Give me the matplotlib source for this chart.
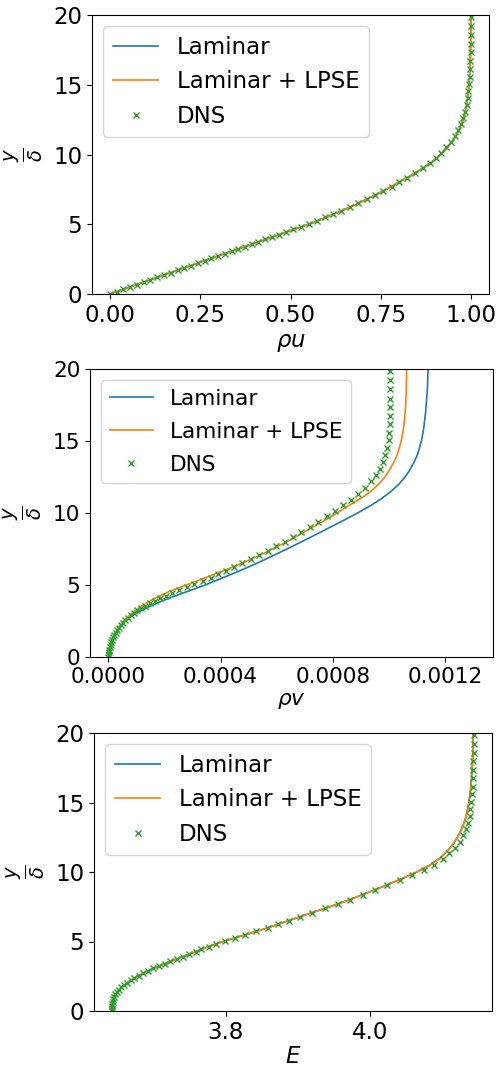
import matplotlib
matplotlib.use("Agg")
import matplotlib.pyplot as plt

# ---------------- data ----------------
# wall-normal coordinate for the model (Laminar / LPSE) curves
y_line = [0, 0.5, 1, 1.5, 2, 2.5, 3, 3.5, 4, 4.5, 5, 5.5, 6, 6.5, 7, 7.5, 8, 8.5, 9, 9.5,
          10, 10.5, 11, 11.5, 12, 12.5, 13, 13.5, 14, 14.5, 15, 15.5, 16, 16.5, 17, 17.5,
          18, 18.5, 19, 19.5, 20]

# DNS grid points (wall-normal)
y_dns = [0, 0.17, 0.34, 0.51, 0.68, 0.85, 1.02, 1.19, 1.36, 1.53, 1.70, 1.87, 2.04, 2.21,
         2.38, 2.55, 2.72, 2.89, 3.06, 3.23, 3.40, 3.57, 3.74, 3.91, 4.08, 4.26, 4.44, 4.63,
         4.83, 5.04, 5.26, 5.49, 5.73, 5.98, 6.24, 6.51, 6.79, 7.08, 7.38, 7.69, 8.01, 8.34,
         8.68, 9.03, 9.39, 9.76, 10.14, 10.53, 10.93, 11.34, 11.76, 12.19, 12.63, 13.08,
         13.55, 14.03, 14.53, 15.05, 15.59, 16.15, 16.73, 17.33, 17.95, 18.58, 19.22, 19.87]

# rho*u
rhou_laminar = [0, 0.055, 0.11, 0.165, 0.22, 0.275, 0.33, 0.385, 0.44, 0.495, 0.551, 0.600,
                0.645, 0.688, 0.728, 0.765, 0.800, 0.834, 0.865, 0.893, 0.916, 0.935, 0.950,
                0.962, 0.971, 0.978, 0.9835, 0.9875, 0.9905, 0.9928, 0.9945, 0.996, 0.997,
                0.9978, 0.9984, 0.9989, 0.9992, 0.9995, 0.9997, 0.9999, 1.0]
rhou_lpse = [0, 0.055, 0.11, 0.165, 0.22, 0.275, 0.33, 0.385, 0.44, 0.495, 0.551, 0.600,
             0.645, 0.688, 0.728, 0.765, 0.800, 0.834, 0.865, 0.893, 0.916, 0.935, 0.950,
             0.962, 0.971, 0.978, 0.9835, 0.9875, 0.9905, 0.9928, 0.9945, 0.996, 0.997,
             0.9978, 0.9984, 0.9989, 0.9992, 0.9995, 0.9997, 0.9999, 1.0]
rhou_dns = [0.000, 0.019, 0.037, 0.056, 0.075, 0.094, 0.112, 0.131, 0.150, 0.168, 0.187,
            0.206, 0.224, 0.243, 0.262, 0.281, 0.299, 0.318, 0.337, 0.355, 0.374, 0.393,
            0.411, 0.430, 0.449, 0.469, 0.488, 0.508, 0.529, 0.551, 0.573, 0.596, 0.618,
            0.641, 0.664, 0.688, 0.711, 0.734, 0.757, 0.780, 0.802, 0.824, 0.846, 0.867,
            0.886, 0.903, 0.918, 0.932, 0.944, 0.955, 0.964, 0.972, 0.979, 0.984, 0.988,
            0.991, 0.993, 0.995, 0.9965, 0.9975, 0.9983, 0.9989, 0.9993, 0.9996, 0.9998,
            0.9999]

# rho*v
rhov_laminar = [0, 0.000003, 0.00001, 0.000021, 0.000036, 0.000059, 0.000096, 0.000146,
                0.000205, 0.000275, 0.000345, 0.000408, 0.00047, 0.000528, 0.000583,
                0.000636, 0.000688, 0.000739, 0.000789, 0.000839, 0.000888, 0.000933,
                0.000973, 0.001007, 0.001035, 0.001057, 0.001074, 0.001088, 0.0011,
                0.001108, 0.001115, 0.00112, 0.001124, 0.001127, 0.00113, 0.001132,
                0.001134, 0.001136, 0.001137, 0.001138, 0.001139]
rhov_lpse = [0, 0.000003, 0.00001, 0.000021, 0.000034, 0.000055, 0.000082, 0.000115,
             0.000158, 0.000212, 0.000278, 0.000345, 0.000412, 0.000474, 0.000532,
             0.000585, 0.000635, 0.000682, 0.000727, 0.000772, 0.000815, 0.000855,
             0.000898, 0.000935, 0.000962, 0.000985, 0.001002, 0.001016, 0.001028,
             0.001036, 0.001043, 0.001048, 0.001052, 0.001055, 0.001057, 0.001059,
             0.00106, 0.001061, 0.0010615, 0.001062, 0.001062]
rhov_dns = [0, 0.000001, 0.000002, 0.000003, 0.000005, 0.000008, 0.00001, 0.000014,
            0.000018, 0.000022, 0.000027, 0.000031, 0.000037, 0.000044, 0.000051,
            0.000059, 0.000069, 0.00008, 0.000091, 0.000103, 0.000116, 0.00013, 0.00015,
            0.000167, 0.000184, 0.000205, 0.000227, 0.000252, 0.000279, 0.000306,
            0.000336, 0.000366, 0.000392, 0.000418, 0.000448, 0.000478, 0.000508,
            0.000538, 0.000568, 0.000598, 0.000628, 0.000658, 0.000688, 0.000718,
            0.000748, 0.000778, 0.000808, 0.000837, 0.000865, 0.000891, 0.000915,
            0.000936, 0.000953, 0.000967, 0.000978, 0.000987, 0.000993, 0.000998,
            0.001001, 0.001003, 0.001004, 0.001004, 0.001004, 0.001004, 0.001004,
            0.001004]

# total energy E
E_laminar = [3.642, 3.6424, 3.6445, 3.651, 3.662, 3.677, 3.697, 3.720, 3.745, 3.769, 3.796,
             3.828, 3.859, 3.887, 3.915, 3.944, 3.971, 3.996, 4.020, 4.043, 4.065, 4.083,
             4.097, 4.107, 4.115, 4.121, 4.126, 4.130, 4.133, 4.135, 4.137, 4.1383, 4.1395,
             4.1403, 4.141, 4.1415, 4.142, 4.1423, 4.1425, 4.1428, 4.143]
E_lpse = [3.642, 3.6424, 3.6445, 3.651, 3.662, 3.677, 3.697, 3.720, 3.745, 3.769, 3.796,
          3.828, 3.859, 3.887, 3.915, 3.944, 3.971, 3.996, 4.020, 4.043, 4.065, 4.083,
          4.097, 4.107, 4.115, 4.121, 4.126, 4.130, 4.133, 4.135, 4.137, 4.1383, 4.1395,
          4.1403, 4.141, 4.1415, 4.142, 4.1423, 4.1425, 4.1428, 4.143]
E_dns = [3.642, 3.642, 3.6422, 3.6424, 3.6430, 3.6438, 3.6447, 3.646, 3.649, 3.6515, 3.655,
         3.659, 3.663, 3.668, 3.673, 3.679, 3.685, 3.692, 3.699, 3.707, 3.715, 3.723, 3.732,
         3.741, 3.749, 3.758, 3.766, 3.776, 3.786, 3.799, 3.813, 3.827, 3.842, 3.858, 3.872,
         3.888, 3.903, 3.920, 3.937, 3.955, 3.972, 3.990, 4.007, 4.024, 4.041, 4.058, 4.074,
         4.089, 4.101, 4.110, 4.118, 4.124, 4.129, 4.133, 4.136, 4.138, 4.139, 4.140, 4.141,
         4.142, 4.1425, 4.143, 4.1433, 4.1436, 4.1438, 4.144]

series_labels = ["Laminar", "Laminar + LPSE", "DNS"]
xlabels = [r"$\rho u$", r"$\rho v$", r"$E$"]
ylabel = r"$\frac{y}{\delta}$"
y_ticks = [0, 5, 10, 15, 20]
xticks_list = [[0.0, 0.25, 0.5, 0.75, 1.0], [0.0, 0.0004, 0.0008, 0.0012], [3.8, 4.0]]
xtick_fmt = ["%.2f", "%.4f", "%.1f"]
xlims = [(-0.05, 1.05), (-0.000065, 0.00137), (3.617, 4.169)]

# ---------------- figure ----------------
fig = plt.figure(figsize=(4.99, 10.69), dpi=100)
positions = [
    [92 / 499, 1 - 294 / 1069, 397 / 499, 279 / 1069],
    [90 / 499, 1 - 657 / 1069, 403 / 499, 288 / 1069],
    [94 / 499, 1 - 1011 / 1069, 398 / 499, 278 / 1069],
]
fsizes = [16.5, 15.6, 16.5]
lspacing = [0.5, 0.6, 0.5]
xlabelpads = [3.0, 3.0, 1.0]
data = [
    (rhou_laminar, rhou_lpse, rhou_dns),
    (rhov_laminar, rhov_lpse, rhov_dns),
    (E_laminar, E_lpse, E_dns),
]

for i in range(3):
    fs = fsizes[i]
    ax = fig.add_axes(positions[i])
    lam, lpse, dns = data[i]
    ax.plot(lam, y_line, color="C0", lw=1.2, label=series_labels[0])
    ax.plot(lpse, y_line, color="C1", lw=1.2, label=series_labels[1])
    ax.plot(dns, y_dns, "x", color="C2", ms=3.8, mew=1.0, label=series_labels[2])
    ax.set_ylim(0, 20)
    ax.set_xlim(*xlims[i])
    ax.set_yticks(y_ticks)
    ax.set_xticks(xticks_list[i])
    ax.set_xticklabels([xtick_fmt[i] % v for v in xticks_list[i]])
    ax.tick_params(labelsize=fs)
    ax.set_xlabel(xlabels[i], fontsize=fs, labelpad=xlabelpads[i])
    ax.set_ylabel(ylabel, fontsize=20, labelpad=6)
    ax.legend(loc="upper left", fontsize=fs, labelspacing=lspacing[i])

fig.savefig("out.png", dpi=100)
